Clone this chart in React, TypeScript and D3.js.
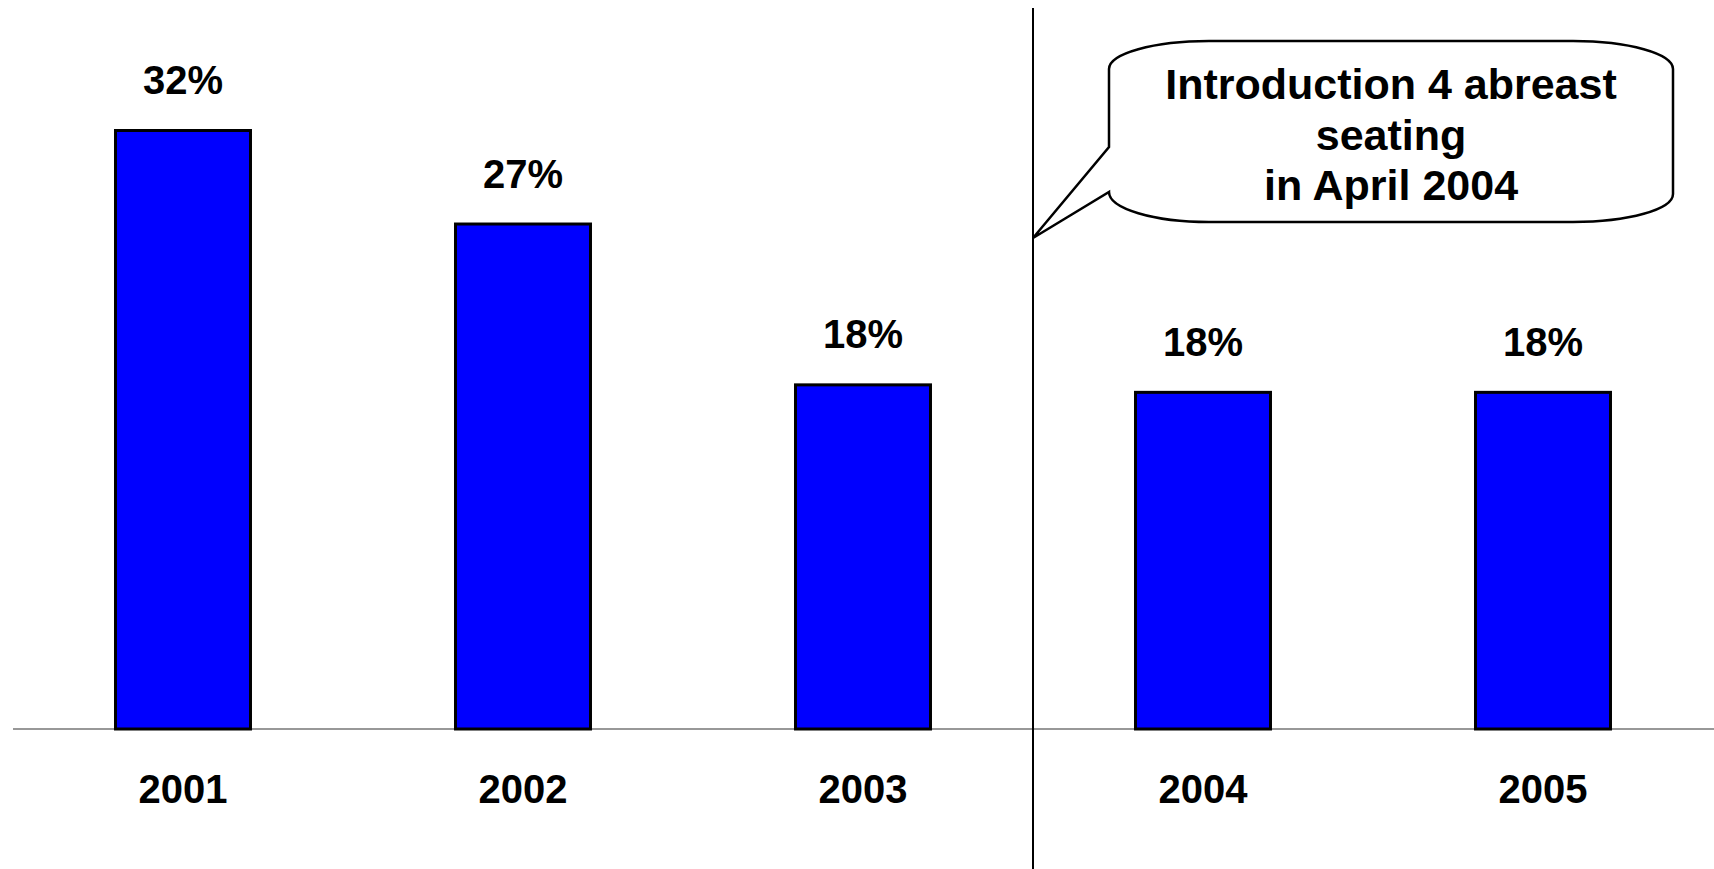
import React from "react";
import * as d3 from "d3";

const years = ["2001", "2002", "2003", "2004", "2005"];
const values = [32, 27, 18.4, 18, 18];
const valueLabels = ["32%", "27%", "18%", "18%", "18%"];
const calloutLines = ["Introduction 4 abreast", "seating", "in April 2004"];

const W = 1714;
const H = 869;
const FONT = "'Liberation Sans', Arial, Helvetica, sans-serif";

export default function App() {
  const x = d3
    .scaleBand<string>()
    .domain(years)
    .range([13, 1713])
    .paddingInner(0.603)
    .paddingOuter(0.3015);
  const y = d3.scaleLinear().domain([0, 32]).range([729, 130.5]);
  const base = y(0);

  // separator between 2003 and 2004
  const sepX = Math.round(((x("2003")! + x.bandwidth() / 2) + (x("2004")! + x.bandwidth() / 2)) / 2);

  // callout box geometry
  const bx0 = 1109, bx1 = 1673, by0 = 41, by1 = 222;
  const rx = 100, ry = 28;
  const tipX = sepX, tipY = 238;
  const tailTop = 147, tailBot = 192;
  const calloutPath = [
    `M ${bx0} ${by0 + ry}`,
    `A ${rx} ${ry} 0 0 1 ${bx0 + rx} ${by0}`,
    `L ${bx1 - rx} ${by0}`,
    `A ${rx} ${ry} 0 0 1 ${bx1} ${by0 + ry}`,
    `L ${bx1} ${by1 - ry}`,
    `A ${rx} ${ry} 0 0 1 ${bx1 - rx} ${by1}`,
    `L ${bx0 + rx} ${by1}`,
    `A ${rx} ${by1 - tailBot} 0 0 1 ${bx0} ${tailBot}`,
    `L ${tipX} ${tipY}`,
    `L ${bx0} ${tailTop}`,
    `Z`,
  ].join(" ");
  const cx = (bx0 + bx1) / 2;
  const baselines = [99, 150, 200];

  return (
    <div style={{ position: "absolute", left: 0, top: 0 }}>
      <svg width={W} height={H} style={{ display: "block", background: "#fff" }}>
        {/* axis baseline */}
        <line x1={13} x2={1714} y1={base} y2={base} stroke="#333" strokeWidth={1.2} />
        {/* separator */}
        <line x1={sepX} x2={sepX} y1={8} y2={H} stroke="#000" strokeWidth={2} />
        {/* bars */}
        {years.map((yr, i) => (
          <rect
            key={yr}
            x={x(yr)!}
            y={y(values[i])}
            width={x.bandwidth()}
            height={base - y(values[i])}
            fill="#0000FF"
            stroke="#000"
            strokeWidth={3}
          />
        ))}
        {/* value labels */}
        {years.map((yr, i) => (
          <text
            key={"v" + yr}
            x={x(yr)! + x.bandwidth() / 2}
            y={y(values[i]) - 36.5}
            textAnchor="middle"
            fontFamily={FONT}
            fontWeight="bold"
            fontSize={40}
            fill="#000"
          >
            {valueLabels[i]}
          </text>
        ))}
        {/* category labels */}
        {years.map((yr) => (
          <text
            key={"c" + yr}
            x={x(yr)! + x.bandwidth() / 2}
            y={803}
            textAnchor="middle"
            fontFamily={FONT}
            fontWeight="bold"
            fontSize={40}
            fill="#000"
          >
            {yr}
          </text>
        ))}
        {/* callout */}
        <path d={calloutPath} fill="#fff" stroke="#000" strokeWidth={2.5} strokeLinejoin="miter" />
        {calloutLines.map((t, i) => (
          <text
            key={"t" + i}
            x={cx}
            y={baselines[i]}
            textAnchor="middle"
            fontFamily={FONT}
            fontWeight="bold"
            fontSize={43}
            fill="#000"
          >
            {t}
          </text>
        ))}
      </svg>
    </div>
  );
}
